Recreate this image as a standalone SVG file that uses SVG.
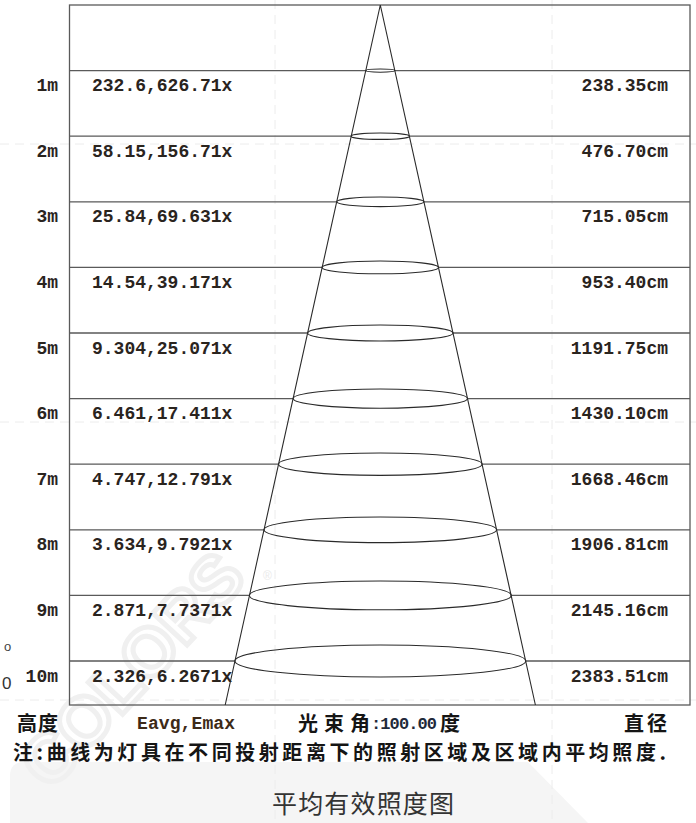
<svg xmlns="http://www.w3.org/2000/svg" width="696" height="823" viewBox="0 0 696 823">
<style>
.mono{font-family:"Liberation Mono","Courier New",monospace;font-weight:bold;font-size:18px;fill:#2a241e}
.cjk{font-family:"Noto Sans CJK SC","Noto Sans",sans-serif;font-weight:bold;font-size:20px;fill:#151515}
.grid{stroke:#5a5a5a;stroke-width:1.3;fill:none}
.cone{stroke:#2a2a2a;stroke-width:1.1;fill:none}
.faint{stroke:#ececec;stroke-width:1;stroke-dasharray:9 6;fill:none}
.end{text-anchor:end}
</style>
<rect x="0" y="0" width="696" height="823" fill="#ffffff"/>
<g id="background">
<path d="M10,776 Q10,762 24,762 L528,762 L588,823 L10,823 Z" fill="#f5f5f5"/>
<path class="faint" d="M275,0 V823 M552,0 V823 M0,144 H696 M0,422 H696 M0,700 H696"/>
<text x="50" y="792" transform="rotate(-47 50 792)" font-family="Liberation Sans,Arial,sans-serif" font-weight="bold" font-size="68" fill="none" stroke="#f0f0f0" stroke-width="5">COLORS</text>
<text x="263" y="580" font-family="Liberation Sans,Arial,sans-serif" font-size="12" fill="#eaeaea">®</text>
<text x="4" y="651" font-family="Liberation Sans,Arial,sans-serif" font-size="13" fill="#444">o</text>
<text x="2" y="689" font-family="Liberation Sans,Arial,sans-serif" font-size="17" fill="#333">0</text>
</g>
<g id="frame">
<rect class="grid" x="69.5" y="5" width="620.5" height="700"/>
</g>
<g id="connectors">
<path class="grid" d="M69.5,70.6 H365.8 M394.8,70.6 H690 M69.5,136.2 H351.2 M409.4,136.2 H690 M69.5,201.8 H336.7 M423.9,201.8 H690 M69.5,267.4 H322.1 M438.5,267.4 H690 M69.5,333 H307.6 M453,333 H690 M69.5,398.6 H293.1 M467.5,398.6 H690 M69.5,464.2 H278.5 M482.1,464.2 H690 M69.5,529.8 H264 M496.6,529.8 H690 M69.5,595.4 H249.4 M511.2,595.4 H690 M69.5,661 H234.9 M525.7,661 H690"/>
<path class="cone" d="M225.2,705 L380.3,5 L535.4,705"/>
</g>
<g id="ellipses" class="cone">
<ellipse cx="380.3" cy="70.6" rx="14.5" ry="1.6"/>
<ellipse cx="380.3" cy="136.2" rx="29.1" ry="3.2"/>
<ellipse cx="380.3" cy="201.8" rx="43.6" ry="4.8"/>
<ellipse cx="380.3" cy="267.4" rx="58.2" ry="6.4"/>
<ellipse cx="380.3" cy="333" rx="72.7" ry="8"/>
<ellipse cx="380.3" cy="398.6" rx="87.2" ry="9.6"/>
<ellipse cx="380.3" cy="464.2" rx="101.8" ry="11.2"/>
<ellipse cx="380.3" cy="529.8" rx="116.3" ry="12.8"/>
<ellipse cx="380.3" cy="595.4" rx="130.9" ry="14.4"/>
<ellipse cx="380.3" cy="661" rx="145.4" ry="16"/>
</g>
<g id="row1"><text class="mono end" x="58" y="91.1">1m</text><text class="mono" x="92" y="91.1">232.6,626.71x</text><text class="mono end" x="668" y="91.1">238.35cm</text></g>
<g id="row2"><text class="mono end" x="58" y="156.7">2m</text><text class="mono" x="92" y="156.7">58.15,156.71x</text><text class="mono end" x="668" y="156.7">476.70cm</text></g>
<g id="row3"><text class="mono end" x="58" y="222.3">3m</text><text class="mono" x="92" y="222.3">25.84,69.631x</text><text class="mono end" x="668" y="222.3">715.05cm</text></g>
<g id="row4"><text class="mono end" x="58" y="287.9">4m</text><text class="mono" x="92" y="287.9">14.54,39.171x</text><text class="mono end" x="668" y="287.9">953.40cm</text></g>
<g id="row5"><text class="mono end" x="58" y="353.5">5m</text><text class="mono" x="92" y="353.5">9.304,25.071x</text><text class="mono end" x="668" y="353.5">1191.75cm</text></g>
<g id="row6"><text class="mono end" x="58" y="419.1">6m</text><text class="mono" x="92" y="419.1">6.461,17.411x</text><text class="mono end" x="668" y="419.1">1430.10cm</text></g>
<g id="row7"><text class="mono end" x="58" y="484.7">7m</text><text class="mono" x="92" y="484.7">4.747,12.791x</text><text class="mono end" x="668" y="484.7">1668.46cm</text></g>
<g id="row8"><text class="mono end" x="58" y="550.3">8m</text><text class="mono" x="92" y="550.3">3.634,9.7921x</text><text class="mono end" x="668" y="550.3">1906.81cm</text></g>
<g id="row9"><text class="mono end" x="58" y="615.9">9m</text><text class="mono" x="92" y="615.9">2.871,7.7371x</text><text class="mono end" x="668" y="615.9">2145.16cm</text></g>
<g id="row10"><text class="mono end" x="58" y="681.5">10m</text><text class="mono" x="92" y="681.5">2.326,6.2671x</text><text class="mono end" x="668" y="681.5">2383.51cm</text></g>
<g id="axis-labels">
<text class="cjk" x="17" y="730.5" textLength="41" lengthAdjust="spacing">高度</text>
<text class="mono" x="137" y="729" style="fill:#3d2a18" textLength="98" lengthAdjust="spacing">Eavg,Emax</text>
<text class="cjk" x="298" y="730.5" textLength="72" lengthAdjust="spacing">光束角</text>
<text class="mono" x="371" y="729" style="fill:#1f2a3a;font-size:17px" textLength="66" lengthAdjust="spacing">:100.00</text>
<text class="cjk" x="440" y="730.5">度</text>
<text class="cjk" x="624" y="730.5" textLength="43" lengthAdjust="spacing">直径</text>
</g>
<g id="note">
<text class="cjk" x="13" y="759.5" textLength="653" lengthAdjust="spacing">注:曲线为灯具在不同投射距离下的照射区域及区域内平均照度.</text>
</g>
<g id="title">
<text x="272" y="813" font-family="Noto Sans CJK SC,Noto Sans,sans-serif" font-size="25" fill="#333" textLength="182" lengthAdjust="spacing">平均有效照度图</text>
</g>
</svg>
